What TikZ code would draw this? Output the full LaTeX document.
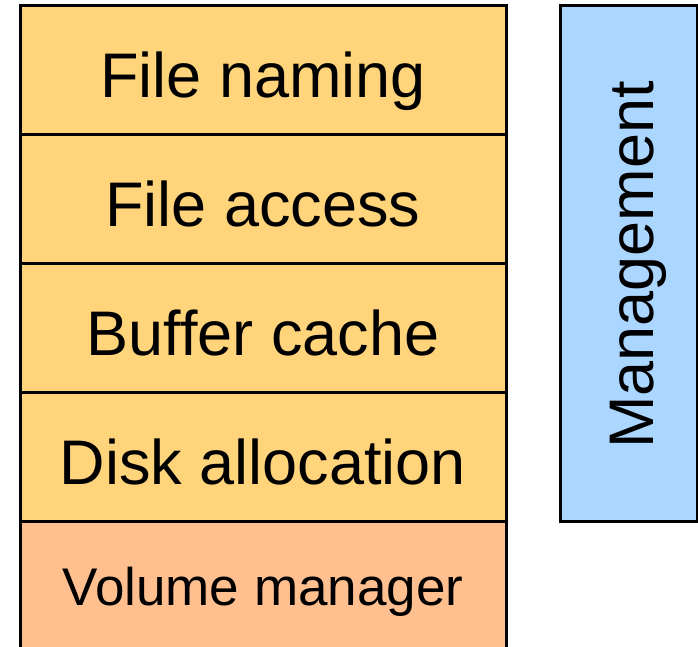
\documentclass[tikz,border=0pt]{standalone}
\usepackage{fontspec}
\setmainfont{Liberation Sans}
\usetikzlibrary{positioning}

\definecolor{layeryellow}{RGB}{255,212,122}
\definecolor{layerorange}{RGB}{255,191,143}
\definecolor{mgmtblue}{RGB}{170,214,255}

\begin{document}
\begin{tikzpicture}[
      x=1pt, y=-1pt,
      node distance=0pt,
      layer/.style={rectangle, draw, line width=3pt, outer sep=0pt, minimum width=486pt, minimum height=129pt, fill=layeryellow, text height=56pt, text depth=0pt, font=\fontsize{63}{70}\selectfont},
      mgmt/.style={rectangle, draw, line width=3pt, outer sep=0pt, minimum width=137pt, minimum height=516pt, fill=mgmtblue}
    ]
    \useasboundingbox (0,0) rectangle (698,646);

    \node[layer, anchor=north west] (naming) at (20,5) {File naming};
    \node[layer, below=of naming] (access) {File access};
    \node[layer, below=of access] (cache) {Buffer cache};
    \node[layer, below=of cache] (alloc) {Disk allocation};
    \node[layer, below=of alloc, fill=layerorange, minimum height=150pt, font=\fontsize{53}{60}\selectfont, text height=40pt, text depth=22pt] (volume) {Volume manager};

    \node[mgmt, anchor=north west] (manage) at (560,5) {};
    \node[rotate=90, font=\fontsize{63}{70}\selectfont, xshift=-2pt, yshift=-10pt] (managetext) at (manage.center) {Management};
  \end{tikzpicture}
\end{document}
